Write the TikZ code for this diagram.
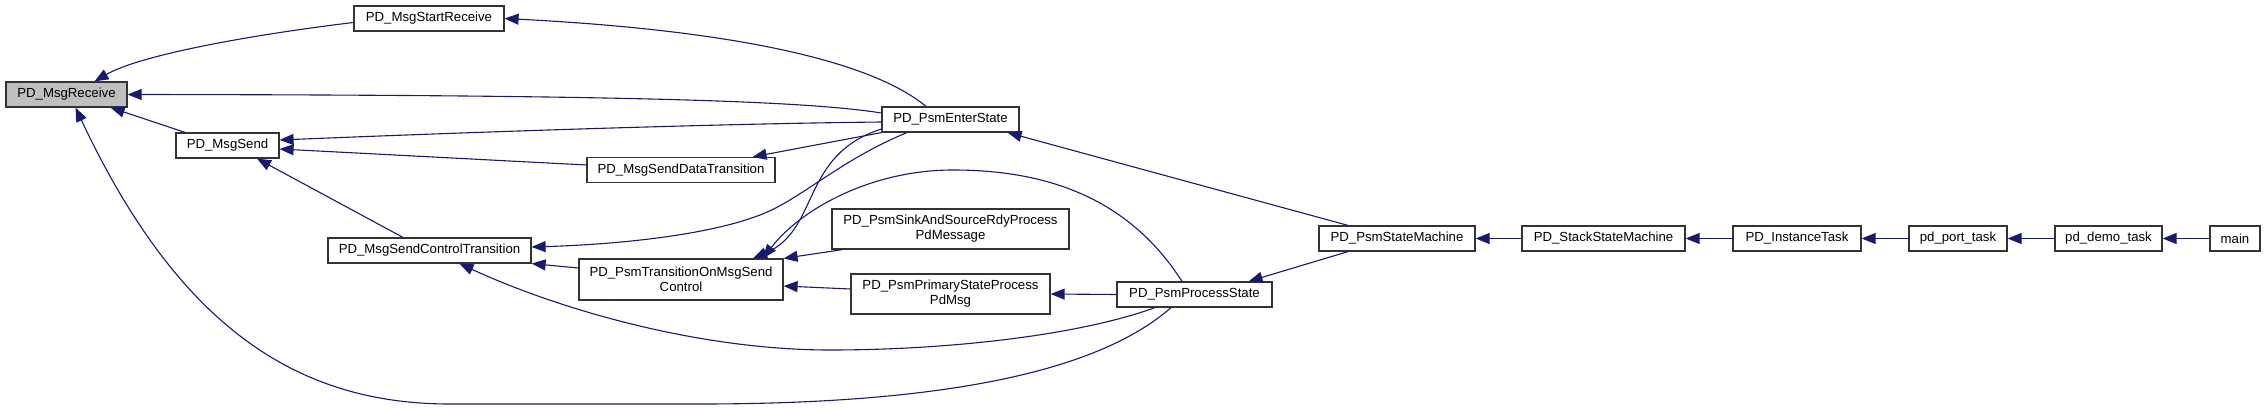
\documentclass[tikz,border=0pt]{standalone}
\usepackage{fontspec}
\setmainfont{Liberation Sans}
\usetikzlibrary{arrows.meta}
\definecolor{callblue}{RGB}{25,25,112}
\definecolor{focusgray}{RGB}{191,191,191}

\begin{document}
\begin{tikzpicture}[x=1pt, y=-1pt,
    fn/.style={draw=black!80, line width=1.2pt, fill=white, inner sep=0pt,
        minimum height=25pt, align=center, font=\fontsize{13.2}{15}\selectfont},
    call/.style={callblue, line width=1.1pt, -{Triangle[length=14pt, width=11pt]}}]
    \useasboundingbox (0,0) rectangle (2267,409);

    % Functions
    \node[fn, fill=focusgray, minimum width=121pt] (msgreceive) at (66.5, 94.5) {PD\_MsgReceive};
    \node[fn, minimum width=150pt] (startreceive) at (429, 18.5) {PD\_MsgStartReceive};
    \node[fn, minimum width=103pt] (msgsend) at (227.5, 145.5) {PD\_MsgSend};
    \node[fn, minimum width=203pt] (ctrltrans) at (429.5, 250.5) {PD\_MsgSendControlTransition};
    \node[fn, minimum width=188pt] (datatrans) at (681, 170) {PD\_MsgSendDataTransition};
    \node[fn, minimum width=204pt, minimum height=41pt] (transonmsg) at (681, 279.5) {PD\_PsmTransitionOnMsgSend\\Control};
    \node[fn, minimum width=137pt] (enterstate) at (950.5, 119.5) {PD\_PsmEnterState};
    \node[fn, minimum width=237pt, minimum height=40pt] (sinksource) at (950.5, 229) {PD\_PsmSinkAndSourceRdyProcess\\PdMessage};
    \node[fn, minimum width=199pt, minimum height=40pt] (primarystate) at (950.5, 294) {PD\_PsmPrimaryStateProcess\\PdMsg};
    \node[fn, minimum width=155pt] (processstate) at (1194.5, 294.5) {PD\_PsmProcessState};
    \node[fn, minimum width=156pt] (statemachine) at (1397, 238.5) {PD\_PsmStateMachine};
    \node[fn, minimum width=163pt] (stackstm) at (1603.5, 238.5) {PD\_StackStateMachine};
    \node[fn, minimum width=128pt] (instancetask) at (1797, 238.5) {PD\_InstanceTask};
    \node[fn, minimum width=98pt] (porttask) at (1958, 238.5) {pd\_port\_task};
    \node[fn, minimum width=107pt] (demotask) at (2108.5, 238.5) {pd\_demo\_task};
    \node[fn, minimum width=50pt] (mainfn) at (2235, 238.5) {main};

    % Callers of PD_MsgReceive
    \draw[call] ([yshift=-4pt]startreceive.west) .. controls (250,35) and (140,55) .. ([xshift=28pt]msgreceive.north);
    \draw[call] ([yshift=6.5pt]enterstate.west) .. controls (800,100) and (600,95) .. (msgreceive.east);
    \draw[call] ([xshift=-42.5pt]msgsend.north) -- ([xshift=-17pt]msgreceive.south east);
    \draw[call] ([xshift=-23.5pt]processstate.south) .. controls (1100,370) and (950,404) .. (700,404)
        -- (450,404) .. controls (300,404) and (180,330) .. ([xshift=9pt]msgreceive.south);

    % Callers of PD_MsgStartReceive
    \draw[call] ([xshift=-24.5pt]enterstate.north) .. controls (870,60) and (730,30) .. (startreceive.east);

    % Callers of PD_MsgSend
    \draw[call] ([yshift=-2.5pt]enterstate.west) .. controls (700,124) and (450,133) .. ([yshift=5.5pt]msgsend.east);
    \draw[call] ([yshift=5pt]datatrans.west) -- ([yshift=-3.5pt]msgsend.east);
    \draw[call] ([xshift=-26.5pt]ctrltrans.north) -- ([xshift=29.5pt]msgsend.south);

    % Callers of the transitions
    \draw[call] (enterstate.south west) -- ([xshift=-23pt]datatrans.north east);
    \draw[call] ([xshift=-43.5pt]enterstate.south) .. controls (840,160) and (800,200) .. (760,215)
        .. controls (700,238) and (600,245) .. ([yshift=3.5pt]ctrltrans.east);
    \draw[call] ([yshift=11.5pt]transonmsg.west) -- (ctrltrans.south east);
    \draw[call] ([xshift=-39.5pt]processstate.south) .. controls (1080,335) and (950,350) .. (830,350)
        .. controls (700,350) and (560,310) .. ([xshift=30pt]ctrltrans.south);

    % Callers of PD_PsmTransitionOnMsgSendControl
    \draw[call] ([yshift=-9.5pt]enterstate.west) .. controls (800,155) and (820,230) .. ([xshift=72pt]transonmsg.north);
    \draw[call] ([xshift=-12.5pt]processstate.north) .. controls (1130,200) and (1050,170) .. (953,170)
        .. controls (870,170) and (800,210) .. ([xshift=82pt]transonmsg.north);
    \draw[call] ([xshift=11pt]sinksource.south west) -- (transonmsg.north east);
    \draw[call] ([yshift=5pt]primarystate.west) -- ([yshift=-6.5pt]transonmsg.east);
    \draw[call] (processstate.west) -- (primarystate.east);

    % State machine
    \draw[call] ([xshift=-49pt]statemachine.north) -- ([xshift=-12pt]enterstate.south east);
    \draw[call] ([xshift=-49pt]statemachine.south) -- ([xshift=-24pt]processstate.north east);

    % Task chain
    \draw[call] (stackstm) -- (statemachine);
    \draw[call] (instancetask) -- (stackstm);
    \draw[call] (porttask) -- (instancetask);
    \draw[call] (demotask) -- (porttask);
    \draw[call] (mainfn) -- (demotask);

\end{tikzpicture}
\end{document}
